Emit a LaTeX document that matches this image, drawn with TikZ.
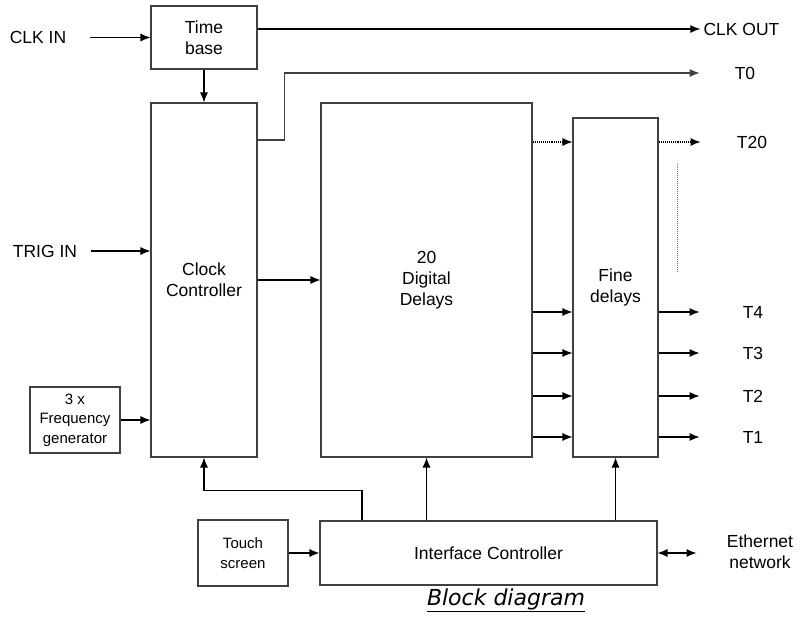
\documentclass[tikz,border=0pt]{standalone}
\usepackage{fontspec}
\setmainfont{Liberation Sans}
\newfontfamily\capfont{DejaVu Sans}
\usetikzlibrary{arrows.meta}
\definecolor{boxline}{gray}{0.25}

\tikzset{
  blk/.style={draw=boxline, line width=1.1pt, align=center, inner sep=0pt},
  smallblk/.style={blk, font=\fontsize{15}{19.5}\selectfont},
  lbl/.style={align=center, inner sep=0pt},
  sig/.style={line width=1.1pt, -{Latex[length=10pt,width=8pt]}},
  dsig/.style={sig, densely dotted},
  bsig/.style={line width=1.1pt, {Latex[length=10pt,width=8pt]}-{Latex[length=10pt,width=8pt]}},
}

\begin{document}
\begin{tikzpicture}[x=1pt, y=-1pt, font=\fontsize{17.5}{21}\selectfont]
	\useasboundingbox (0,0) rectangle (800,618);

	\node[blk, minimum width=106pt, minimum height=63pt]  (timebase) at (204, 37.5)  {Time\\base};
	\node[blk, minimum width=106pt, minimum height=354pt] (clockctl) at (204, 280)   {Clock\\Controller};
	\node[blk, minimum width=211pt, minimum height=354pt] (digital)  at (426.5, 280) {20\\Digital\\Delays};
	\node[blk, minimum width=85pt, minimum height=339pt]  (fine)     at (615.5, 287.5) {Fine\\delays};
	\node[smallblk, minimum width=90pt, minimum height=66pt] (freqgen) at (75, 420)  {3 x\\Frequency\\generator};
	\node[smallblk, minimum width=90pt, minimum height=66pt] (touch)   at (243, 553) {Touch\\screen};
	\node[blk, minimum width=337pt, minimum height=64pt]  (iface)    at (488.5, 553) {Interface Controller};

	\node[lbl] (clkin)  at (38, 37.5)  {CLK IN};
	\node[lbl] (trigin) at (45, 251)   {TRIG IN};
	\node[lbl] (clkout) at (741.5, 29) {CLK OUT};
	\node[lbl] (t0)  at (745, 73)  {T0};
	\node[lbl] (t20) at (752, 142) {T20};
	\node[lbl] (t4)  at (753, 312) {T4};
	\node[lbl] (t3)  at (753, 353) {T3};
	\node[lbl] (t2)  at (753, 396) {T2};
	\node[lbl] (t1)  at (753, 437) {T1};
	\node[lbl] (ether) at (760, 552) {Ethernet\\network};
	\node[lbl, font=\fontsize{22}{26}\capfont\itshape] (caption) at (506, 600) {\underline{Block diagram}};

	\draw[sig] ([xshift=24pt]clkin.east) -- (timebase.west);
	\draw[sig] ([yshift=8.5pt]timebase.east) -- ([xshift=-3pt]clkout.west);
	\draw[sig] (timebase.south) -- (clockctl.north);
	\draw[sig] ([xshift=14pt]trigin.east) -- (trigin.east -| clockctl.west);
	\draw[sig, draw=boxline] ([yshift=140pt]clockctl.east) -- ++(27,0) |- ([xshift=-35pt]t0.west);
	\draw[sig] (clockctl.east) -- (digital.west);
	\draw[sig] (freqgen.east) -- (freqgen.east -| clockctl.west);

	\draw[dsig] (digital.east |- t20) -- (fine.west |- t20);
	\draw[dsig] (fine.east |- t20) -- ++(42,0);
	\draw[line width=1pt, densely dotted, draw=gray] ([shift={(19,21)}]fine.east |- t20) -- ++(0,110);
	\foreach \t in {t4,t3,t2,t1} {
		\draw[sig] (digital.east |- \t) -- (fine.west |- \t);
		\draw[sig] (fine.east |- \t) -- ++(41,0);
	}

	\draw[sig] (touch.east) -- (iface.west);
	\draw[bsig] (iface.east) -- ++(39,0);
	\draw[sig] (iface.north -| digital.south) -- (digital.south);
	\draw[sig] (iface.north -| fine.south) -- (fine.south);
	\draw[sig] ([xshift=-126.5pt]iface.north) -- ++(0,-30) -| (clockctl.south);

\end{tikzpicture}
\end{document}
